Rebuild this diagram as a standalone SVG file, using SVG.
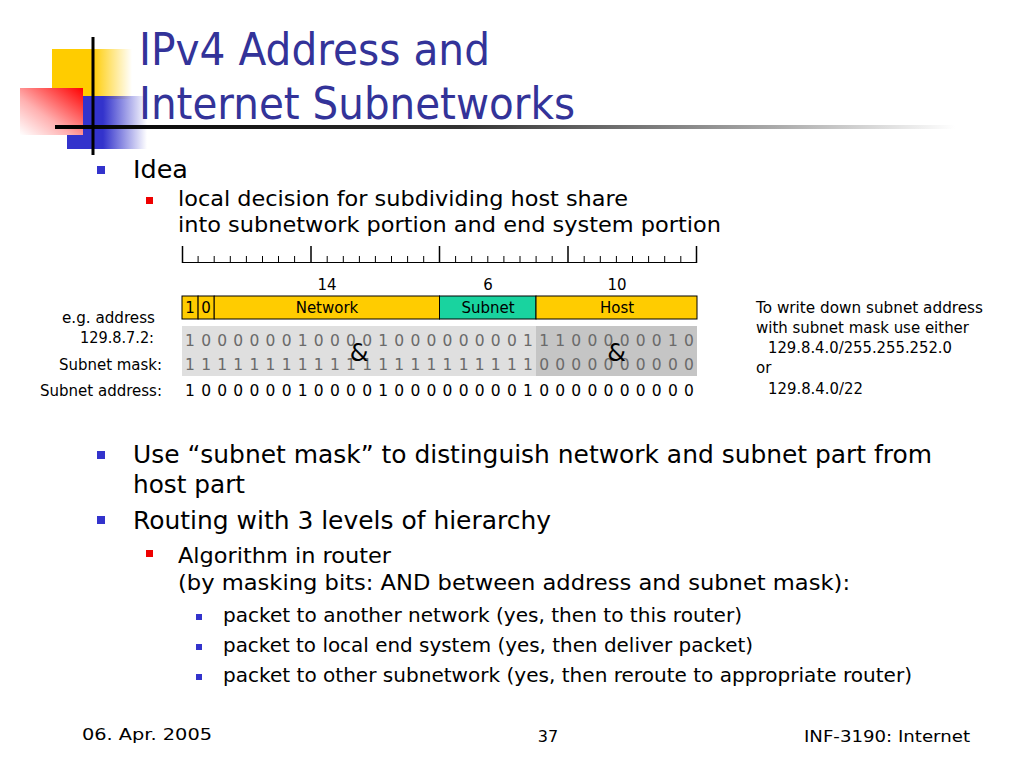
<svg xmlns="http://www.w3.org/2000/svg" width="1024" height="768" viewBox="0 0 1024 768">
<style>
text{font-family:"DejaVu Sans","Liberation Sans",sans-serif;}
.title{font-size:44px;fill:#333399;}
.l1{font-size:24px;fill:#000;}
.l2{font-size:22px;fill:#000;}
.l3{font-size:19px;fill:#000;}
.sm{font-size:15px;fill:#000;}
.box{font-size:15px;fill:#000;text-anchor:middle;}
.bits{font-size:15.5px;text-anchor:middle;}
.gray{fill:#6a6a6a;}
.blk{fill:#000;}
.amp{font-size:24px;fill:#000;text-anchor:middle;}
.foot{font-size:16px;fill:#000;}
.b1{fill:#3333cc;}
.b2{fill:#ee0000;}
.cell{stroke:#000;stroke-width:1;}
.tick{stroke:#000;stroke-width:1;}
.btick{stroke:#000;stroke-width:1.5;}
</style>
<defs>
<linearGradient id="gy" x1="0" y1="0" x2="1" y2="0"><stop offset="0" stop-color="#ffcc00"/><stop offset="0.5" stop-color="#ffcc00"/><stop offset="1" stop-color="#ffcc00" stop-opacity="0"/></linearGradient>
<linearGradient id="gb" x1="0" y1="0" x2="1" y2="0"><stop offset="0" stop-color="#3333cc"/><stop offset="0.45" stop-color="#3333cc"/><stop offset="1" stop-color="#3333cc" stop-opacity="0"/></linearGradient>
<linearGradient id="gr" x1="1" y1="0" x2="0" y2="1"><stop offset="0" stop-color="#ff0000"/><stop offset="0.6" stop-color="#ffb0b0"/><stop offset="1" stop-color="#ffffff"/></linearGradient>
<linearGradient id="gl" x1="0" y1="0" x2="1" y2="0"><stop offset="0" stop-color="#000"/><stop offset="0.45" stop-color="#333"/><stop offset="0.8" stop-color="#aaa"/><stop offset="1" stop-color="#fff"/></linearGradient>
</defs>
<rect width="1024" height="768" fill="#fff"/>
<g id="logo">
<rect x="52" y="49" width="80" height="50" fill="url(#gy)"/>
<rect x="67" y="96" width="80" height="53" fill="url(#gb)"/>
<rect x="20" y="88" width="63" height="47" fill="url(#gr)"/>
<rect x="55" y="125" width="900" height="4" fill="url(#gl)"/>
<rect x="91.5" y="37" width="3" height="118" fill="#000"/>
</g>
<g id="title">
<text class="title" x="139" y="65" textLength="351" lengthAdjust="spacingAndGlyphs">IPv4 Address and</text>
<text class="title" x="139" y="119" textLength="436" lengthAdjust="spacingAndGlyphs">Internet Subnetworks</text>
</g>
<g id="idea">
<rect class="b1" x="97" y="166" width="8" height="8"/>
<text class="l1" x="133" y="178" textLength="55" lengthAdjust="spacingAndGlyphs">Idea</text>
<rect class="b2" x="146" y="197" width="7" height="7"/>
<text class="l2" x="178" y="206" textLength="450" lengthAdjust="spacingAndGlyphs">local decision for subdividing host share</text>
<text class="l2" x="178" y="232" textLength="543" lengthAdjust="spacingAndGlyphs">into subnetwork portion and end system portion</text>
</g>
<g id="ruler">
<line class="tick" x1="182" y1="262.5" x2="697" y2="262.5"/>
<path class="btick" d="M182.5 246V263M311 246V263M439.5 246V263M568 246V263M696.5 246V263"/>
<path class="tick" d="M198.1 256V263M214.2 256V263M230.3 256V263M246.4 256V263M262.5 256V263M278.5 256V263M294.6 256V263M327.2 256V263M343.3 256V263M359.4 256V263M375.4 256V263M391.5 256V263M407.6 256V263M423.7 256V263M455.6 256V263M471.7 256V263M487.8 256V263M503.9 256V263M520 256V263M536.1 256V263M552.2 256V263M584.2 256V263M600.3 256V263M616.4 256V263M632.5 256V263M648.6 256V263M664.7 256V263M680.8 256V263"/>
<text class="box" x="327" y="290">14</text>
<text class="box" x="488" y="290">6</text>
<text class="box" x="617" y="290">10</text>
</g>
<g id="fields">
<rect class="cell" x="182" y="296" width="16.1" height="23" fill="#ffcc00"/>
<rect class="cell" x="198.1" y="296" width="16.1" height="23" fill="#ffcc00"/>
<rect class="cell" x="214.2" y="296" width="225.3" height="23" fill="#ffcc00"/>
<rect class="cell" x="439.5" y="296" width="96.5" height="23" fill="#19d39f"/>
<rect class="cell" x="536" y="296" width="161" height="23" fill="#ffcc00"/>
<text class="box" x="190" y="313">1</text>
<text class="box" x="206.1" y="313">0</text>
<text class="box" x="327" y="313">Network</text>
<text class="box" x="488" y="313">Subnet</text>
<text class="box" x="617" y="313">Host</text>
</g>
<g id="bits">
<rect x="182" y="326" width="354" height="50" fill="#dfdfdf"/>
<rect x="536" y="326" width="161" height="50" fill="#c5c5c5"/>
<text class="bits gray" y="346" x="190 198 206.1 214.1 222.2 230.2 238.3 246.3 254.4 262.4 270.5 278.5 286.6 294.6 302.7 310.7 318.8 326.8 334.9 342.9 351 359 367.1 375.1 383.2 391.2 399.3 407.3 415.4 423.4 431.5 439.5 447.5 455.5 463.6 471.6 479.7 487.7 495.8 503.8 511.9 519.9 528 536 544.1 552.1 560.2 568.2 576.3 584.3 592.4 600.4 608.5 616.5 624.6 632.6 640.7 648.7 656.8 664.8 672.9 680.9 688.9">1 0 0 0 0 0 0 1 0 0 0 0 1 0 0 0 0 0 0 0 0 1 1 1 0 0 0 0 0 0 1 0</text>
<text class="bits gray" y="370" x="190 198 206.1 214.1 222.2 230.2 238.3 246.3 254.4 262.4 270.5 278.5 286.6 294.6 302.7 310.7 318.8 326.8 334.9 342.9 351 359 367.1 375.1 383.2 391.2 399.3 407.3 415.4 423.4 431.5 439.5 447.5 455.5 463.6 471.6 479.7 487.7 495.8 503.8 511.9 519.9 528 536 544.1 552.1 560.2 568.2 576.3 584.3 592.4 600.4 608.5 616.5 624.6 632.6 640.7 648.7 656.8 664.8 672.9 680.9 688.9">1 1 1 1 1 1 1 1 1 1 1 1 1 1 1 1 1 1 1 1 1 1 0 0 0 0 0 0 0 0 0 0</text>
<text class="bits blk" y="396" x="190 198 206.1 214.1 222.2 230.2 238.3 246.3 254.4 262.4 270.5 278.5 286.6 294.6 302.7 310.7 318.8 326.8 334.9 342.9 351 359 367.1 375.1 383.2 391.2 399.3 407.3 415.4 423.4 431.5 439.5 447.5 455.5 463.6 471.6 479.7 487.7 495.8 503.8 511.9 519.9 528 536 544.1 552.1 560.2 568.2 576.3 584.3 592.4 600.4 608.5 616.5 624.6 632.6 640.7 648.7 656.8 664.8 672.9 680.9 688.9">1 0 0 0 0 0 0 1 0 0 0 0 1 0 0 0 0 0 0 0 0 1 0 0 0 0 0 0 0 0 0 0</text>
<text class="amp" x="359" y="361">&amp;</text>
<text class="amp" x="616.5" y="361">&amp;</text>
</g>
<g id="labels">
<text class="sm" x="155" y="323" text-anchor="end" textLength="93" lengthAdjust="spacingAndGlyphs">e.g. address</text>
<text class="sm" x="154" y="343" text-anchor="end" textLength="74" lengthAdjust="spacingAndGlyphs">129.8.7.2:</text>
<text class="sm" x="162" y="370" text-anchor="end" textLength="103" lengthAdjust="spacingAndGlyphs">Subnet mask:</text>
<text class="sm" x="162" y="396" text-anchor="end" textLength="122" lengthAdjust="spacingAndGlyphs">Subnet address:</text>
</g>
<g id="note">
<text class="sm" x="756" y="313" textLength="227" lengthAdjust="spacingAndGlyphs">To write down subnet address</text>
<text class="sm" x="756" y="333" textLength="213" lengthAdjust="spacingAndGlyphs">with subnet mask use either</text>
<text class="sm" x="768" y="353" textLength="184" lengthAdjust="spacingAndGlyphs">129.8.4.0/255.255.252.0</text>
<text class="sm" x="756" y="373">or</text>
<text class="sm" x="768" y="394" textLength="95" lengthAdjust="spacingAndGlyphs">129.8.4.0/22</text>
</g>
<g id="mask-bullets">
<rect class="b1" x="97" y="451" width="8" height="8"/>
<text class="l1" x="133" y="463" textLength="799" lengthAdjust="spacingAndGlyphs">Use “subnet mask” to distinguish network and subnet part from</text>
<text class="l1" x="133" y="493" textLength="112" lengthAdjust="spacingAndGlyphs">host part</text>
<rect class="b1" x="97" y="516" width="8" height="8"/>
<text class="l1" x="133" y="529" textLength="418" lengthAdjust="spacingAndGlyphs">Routing with 3 levels of hierarchy</text>
<rect class="b2" x="146" y="550" width="7" height="7"/>
<text class="l2" x="178" y="563" textLength="213" lengthAdjust="spacingAndGlyphs">Algorithm in router</text>
<text class="l2" x="178" y="590" textLength="672" lengthAdjust="spacingAndGlyphs">(by masking bits: AND between address and subnet mask):</text>
<rect class="b1" x="196" y="614" width="6" height="6"/>
<text class="l3" x="223" y="622" textLength="519" lengthAdjust="spacingAndGlyphs">packet to another network (yes, then to this router)</text>
<rect class="b1" x="196" y="644" width="6" height="6"/>
<text class="l3" x="223" y="652" textLength="530" lengthAdjust="spacingAndGlyphs">packet to local end system (yes, then deliver packet)</text>
<rect class="b1" x="196" y="674" width="6" height="6"/>
<text class="l3" x="223" y="682" textLength="689" lengthAdjust="spacingAndGlyphs">packet to other subnetwork (yes, then reroute to appropriate router)</text>
</g>
<g id="footer">
<text class="foot" x="82" y="740" textLength="130" lengthAdjust="spacingAndGlyphs">06. Apr. 2005</text>
<text class="foot" x="548" y="742" text-anchor="middle">37</text>
<text class="foot" x="970" y="742" text-anchor="end" textLength="166" lengthAdjust="spacingAndGlyphs">INF-3190: Internet</text>
</g>
</svg>
